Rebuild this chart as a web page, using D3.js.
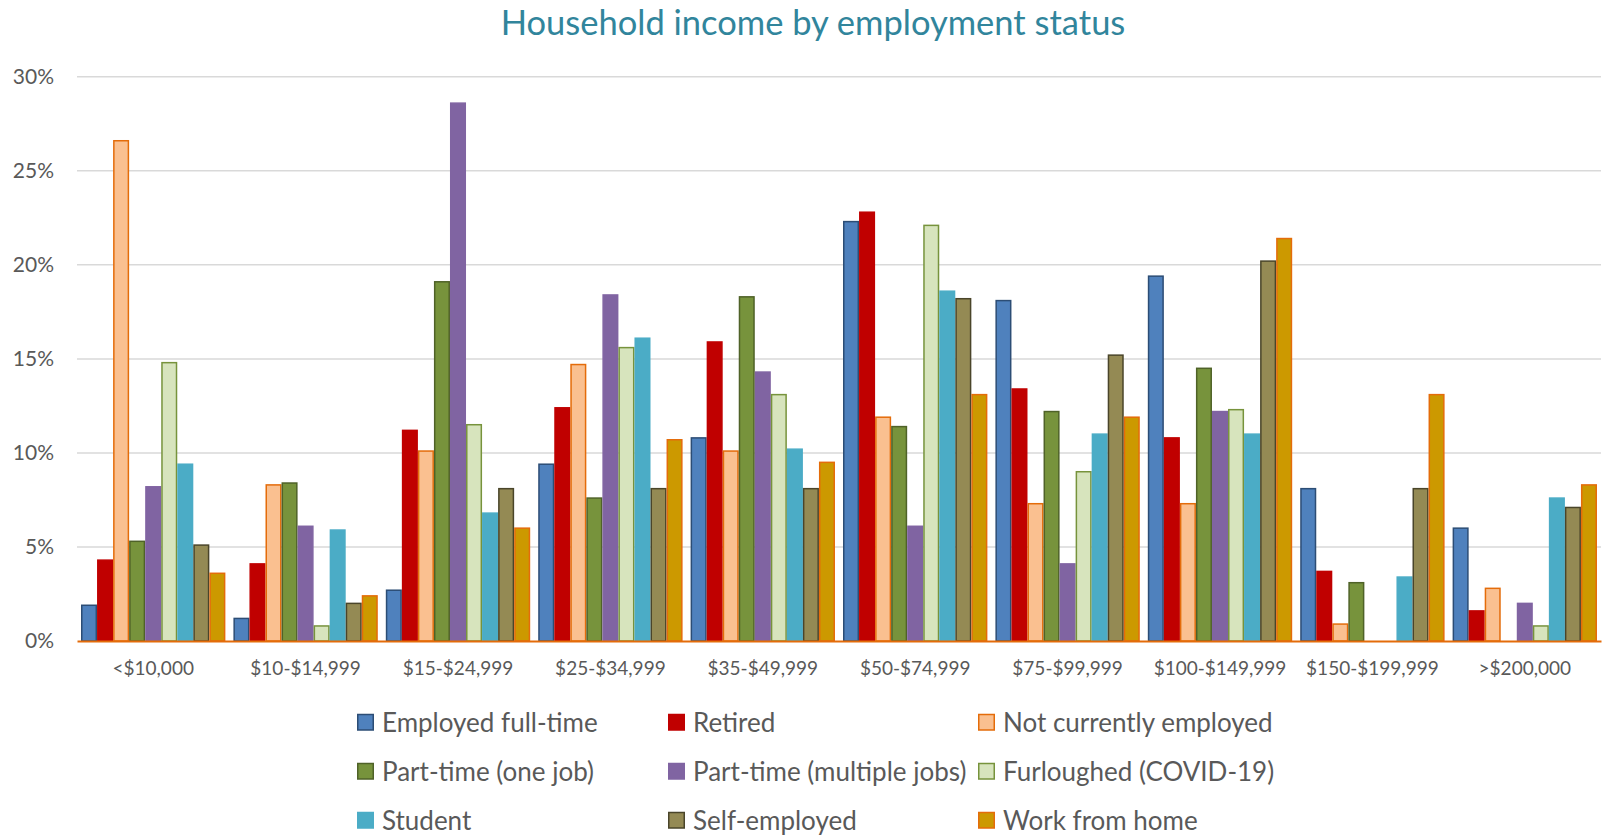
<!DOCTYPE html>
<html>
<head>
<meta charset="utf-8">
<script src="https://cdn.jsdelivr.net/npm/d3@7"></script>
<style>
  html, body { margin: 0; padding: 0; background: #fff; }
  svg { display: block; font-family: Lato, "Open Sans", sans-serif; }
</style>
</head>
<body>
<svg id="chart" width="1606" height="838"></svg>
<script>
// Income brackets (x categories)
const categories = ["<$10,000", "$10-$14,999", "$15-$24,999", "$25-$34,999", "$35-$49,999",
                    "$50-$74,999", "$75-$99,999", "$100-$149,999", "$150-$199,999", ">$200,000"];

// Share of each employment group by income bracket (%)
const employedFullTime     = [1.9, 1.2, 2.7, 9.4, 10.8, 22.3, 18.1, 19.4, 8.1, 6.0];
const retired              = [4.3, 4.1, 11.2, 12.4, 15.9, 22.8, 13.4, 10.8, 3.7, 1.6];
const notCurrentlyEmployed = [26.6, 8.3, 10.1, 14.7, 10.1, 11.9, 7.3, 7.3, 0.9, 2.8];
const partTimeOneJob       = [5.3, 8.4, 19.1, 7.6, 18.3, 11.4, 12.2, 14.5, 3.1, 0];
const partTimeMultipleJobs = [8.2, 6.1, 28.6, 18.4, 14.3, 6.1, 4.1, 12.2, 0, 2.0];
const furloughed           = [14.8, 0.8, 11.5, 15.6, 13.1, 22.1, 9.0, 12.3, 0, 0.8];
const student              = [9.4, 5.9, 6.8, 16.1, 10.2, 18.6, 11.0, 11.0, 3.4, 7.6];
const selfEmployed         = [5.1, 2.0, 8.1, 8.1, 8.1, 18.2, 15.2, 20.2, 8.1, 7.1];
const workFromHome         = [3.6, 2.4, 6.0, 10.7, 9.5, 13.1, 11.9, 21.4, 13.1, 8.3];

const seriesNames = ["Employed full-time", "Retired", "Not currently employed",
                     "Part-time (one job)", "Part-time (multiple jobs)", "Furloughed (COVID-19)",
                     "Student", "Self-employed", "Work from home"];
const seriesValues = [employedFullTime, retired, notCurrentlyEmployed, partTimeOneJob,
                      partTimeMultipleJobs, furloughed, student, selfEmployed, workFromHome];

// Y axis ticks (%)
const yTicks = [0, 5, 10, 15, 20, 25, 30];

const fills   = ["#4F81BD", "#C00000", "#FAC090", "#77933C", "#8064A2", "#D7E4BD", "#4BACC6", "#948A54", "#CC9900"];
const strokes = ["#2C4D75", "#C00000", "#E46C0A", "#4F6228", "#8064A2", "#77933C", "#4BACC6", "#4A452A", "#E46C0A"];

const svg = d3.select("#chart");
const plot = { left: 77, right: 1601, top: 76.8, bottom: 641 };

const x0 = d3.scaleBand().domain(categories).range([plot.left, plot.right]).padding(0);
const x1 = d3.scaleBand().domain(d3.range(seriesNames.length))
  .range([0, x0.bandwidth()]).paddingInner(0).paddingOuter(0.25);
const y = d3.scaleLinear().domain([0, 30]).range([plot.bottom, plot.top]);

// Title
svg.append("text")
  .attr("x", 813).attr("y", 35)
  .attr("text-anchor", "middle")
  .attr("fill", "#31859C")
  .attr("font-size", 34.5)
  .text("Household income by employment status");

// Gridlines
svg.append("g").selectAll("line")
  .data(yTicks.filter(t => t > 0))
  .join("line")
  .attr("x1", plot.left).attr("x2", plot.right)
  .attr("y1", d => y(d)).attr("y2", d => y(d))
  .attr("stroke", "#D9D9D9").attr("stroke-width", 1.5);

// Y axis labels
const yAxis = d3.axisLeft(y).tickValues(yTicks).tickFormat(d => d + "%").tickSize(0).tickPadding(0);
const yg = svg.append("g").attr("transform", `translate(54,0)`).call(yAxis);
yg.select(".domain").remove();
yg.selectAll("text").attr("font-size", 21).attr("fill", "#595959").attr("font-family", "Lato, sans-serif");

// Bars
const groups = svg.append("g").selectAll("g")
  .data(seriesNames.map((name, i) => ({ name, i, values: seriesValues[i] })))
  .join("g");

groups.selectAll("rect")
  .data(s => s.values.map((v, j) => ({ s: s.i, cat: categories[j], v })))
  .join("rect")
  .attr("x", d => x0(d.cat) + x1(d.s) + 0.75)
  .attr("width", x1.bandwidth() - 1.5)
  .attr("y", d => y(d.v))
  .attr("height", d => y(0) - y(d.v))
  .attr("fill", d => fills[d.s])
  .attr("stroke", d => d.v > 0 ? strokes[d.s] : "none")
  .attr("stroke-width", 1.5);

// Category axis
const xAxis = d3.axisBottom(x0).tickSize(0).tickPadding(0);
const xg = svg.append("g").attr("transform", `translate(0,${plot.bottom})`).call(xAxis);
xg.select(".domain").attr("stroke", "#E46C0A").attr("stroke-width", 2);
xg.selectAll("text")
  .attr("y", 0).attr("dy", 0)
  .attr("transform", "translate(0,34)")
  .attr("font-size", 19).attr("fill", "#595959").attr("font-family", "Lato, sans-serif");

// Legend
const legendCols = [357, 668, 978];
const legendRows = [723, 772, 821];
const legend = svg.append("g").selectAll("g")
  .data(seriesNames)
  .join("g")
  .attr("transform", (d, i) => `translate(${legendCols[i % 3]},${legendRows[Math.floor(i / 3)]})`);

legend.append("rect")
  .attr("x", 0.75).attr("y", -8.5)
  .attr("width", 15.5).attr("height", 15.5)
  .attr("fill", (d, i) => fills[i])
  .attr("stroke", (d, i) => strokes[i])
  .attr("stroke-width", 1.5);

legend.append("text")
  .attr("x", 25).attr("y", 0).attr("dy", "0.35em")
  .attr("font-size", 26).attr("fill", "#595959")
  .text(d => d);
</script>
</body>
</html>
